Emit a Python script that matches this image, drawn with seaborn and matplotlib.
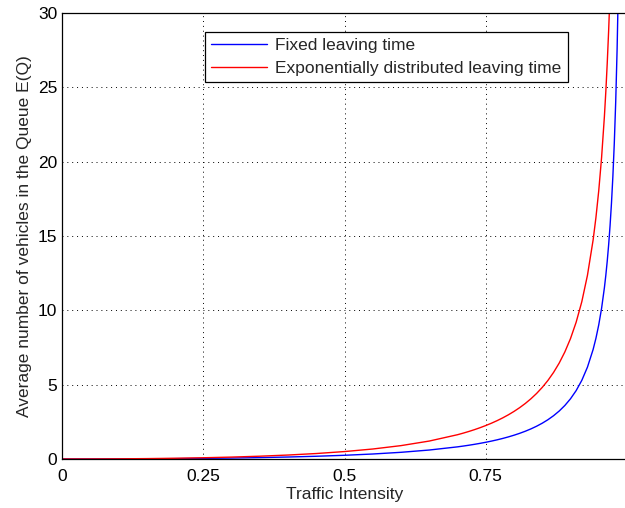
import matplotlib
matplotlib.use("Agg")
import matplotlib.pyplot as plt
import seaborn as sns
import pandas as pd

# Traffic intensity values and E(Q)
rho_fixed = [0, 0.05, 0.1, 0.15, 0.2, 0.25, 0.3, 0.35, 0.4, 0.45, 0.5, 0.55, 0.6, 0.65,
             0.7, 0.71, 0.72, 0.73, 0.74, 0.75, 0.76, 0.77, 0.78, 0.79, 0.8, 0.81, 0.82,
             0.83, 0.84, 0.85, 0.86, 0.87, 0.88, 0.89, 0.9, 0.91, 0.92, 0.93, 0.94, 0.945,
             0.95, 0.955, 0.96, 0.9625, 0.965, 0.9675, 0.97, 0.9725, 0.975, 0.9775, 0.98,
             0.9825, 0.985]
eq_fixed = [0, 0.0013, 0.0056, 0.0132, 0.025, 0.0417, 0.0643, 0.0942, 0.1333, 0.1841,
            0.25, 0.3361, 0.45, 0.6036,
            0.8167, 0.8691, 0.9257, 0.9869, 1.0531, 1.125, 1.2033, 1.2889, 1.3827, 1.486,
            1.6, 1.7266, 1.8678, 2.0262, 2.205, 2.4083, 2.6414, 2.9112, 3.2267, 3.6005,
            4.05, 4.6006, 5.29, 6.1779, 7.3633, 8.1184, 9.025, 10.1336, 11.52, 12.352,
            13.3032, 14.401, 15.6817, 17.1956, 19.0125, 21.2335, 24.01, 27.58, 32.34]

rho_exp = [0, 0.05, 0.1, 0.15, 0.2, 0.25, 0.3, 0.35, 0.4, 0.45, 0.5, 0.55, 0.6, 0.65,
           0.7, 0.71, 0.72, 0.73, 0.74, 0.75, 0.76, 0.77, 0.78, 0.79, 0.8, 0.81, 0.82,
           0.83, 0.84, 0.85, 0.86, 0.87, 0.88, 0.89, 0.9, 0.91, 0.92, 0.93, 0.94, 0.945,
           0.95, 0.955, 0.96, 0.9625, 0.965, 0.9675, 0.97]
eq_exp = [0, 0.0026, 0.0111, 0.0265, 0.05, 0.0833, 0.1286, 0.1885, 0.2667, 0.3682,
          0.5, 0.6722, 0.9, 1.2071,
          1.6333, 1.7383, 1.8514, 1.9737, 2.1062, 2.25, 2.4067, 2.5778, 2.7655, 2.9719,
          3.2, 3.4532, 3.7356, 4.0524, 4.41, 4.8167, 5.2829, 5.8223, 6.4533, 7.2009,
          8.1, 9.2011, 10.58, 12.3557, 14.7267, 16.2368, 18.05, 20.2672, 23.04, 24.704,
          26.6064, 28.802, 31.3633]

labels = ["Fixed leaving time", "Exponentially distributed leaving time"]
x_ticks = [0, 0.25, 0.5, 0.75]
x_tick_labels = ["0", "0.25", "0.5", "0.75"]
y_ticks = [0, 5, 10, 15, 20, 25, 30]

df = pd.concat([
    pd.DataFrame({"rho": rho_fixed, "EQ": eq_fixed, "series": labels[0]}),
    pd.DataFrame({"rho": rho_exp, "EQ": eq_exp, "series": labels[1]}),
])

sns.set_style("white")
plt.rcParams["font.family"] = ["Liberation Sans", "DejaVu Sans"]

FS = 12.5
fig = plt.figure(figsize=(6.25, 5.08), dpi=100)
ax = fig.add_axes([62 / 625, 49 / 508, 565 / 625, 446 / 508])

sns.lineplot(data=df, x="rho", y="EQ", hue="series", palette=["#0000ff", "#ff0000"],
             linewidth=1.0, ax=ax, sort=False, estimator=None)

ax.set_xlim(0, 1)
ax.set_ylim(0, 30)
ax.set_xticks(x_ticks)
ax.set_xticklabels(x_tick_labels)
ax.set_yticks(y_ticks)
ax.tick_params(direction="in", length=4, labelsize=FS, colors="black", width=0.6)
ax.tick_params(axis="x", pad=7)
ax.grid(True, linestyle=(0, (1, 4)), color="black", linewidth=0.7)
for s in ax.spines.values():
    s.set_color("black")
    s.set_linewidth(0.9)

ax.set_xlabel("Traffic Intensity", fontsize=FS, labelpad=2)
ax.set_ylabel("Average number of vehicles in the Queue E(Q)", fontsize=FS, labelpad=4)

leg = ax.legend(loc="upper left", bbox_to_anchor=(205 / 625, 1 - 32 / 508),
                bbox_transform=fig.transFigure, fontsize=FS, frameon=True,
                fancybox=False, handlelength=3.2, borderpad=0.35, labelspacing=0.45,
                handletextpad=0.5, borderaxespad=0)
leg.get_frame().set_edgecolor("black")
leg.get_frame().set_linewidth(0.9)
leg.get_frame().set_alpha(1)

fig.savefig("out.png", dpi=100)
